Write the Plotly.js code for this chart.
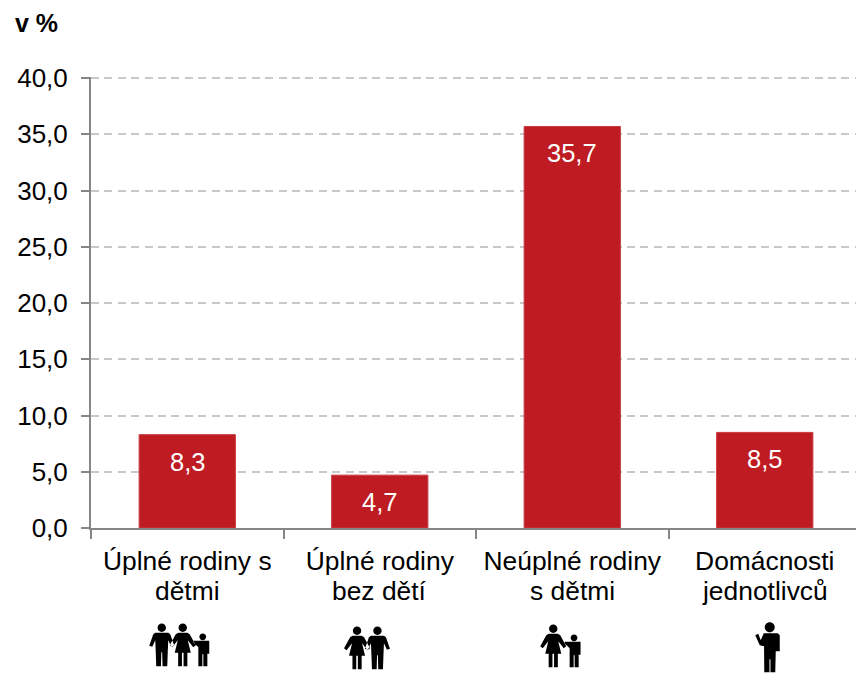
<!DOCTYPE html>
<html><head><meta charset="utf-8">
<script src="https://cdn.plot.ly/plotly-3.0.1.min.js"></script>
<style>html,body{margin:0;padding:0;background:#fff;overflow:hidden}</style>
</head><body><div id="chart" style="width:856px;height:673px"></div>
<script>
var categories = ["Úplné rodiny s","Úplné rodiny","Neúplné rodiny","Domácnosti"];
var categoriesLine2 = ["dětmi","bez dětí","s dětmi","jednotlivců"];
var values = [8.3,4.7,35.7,8.5];
var yTicks = [0,5,10,15,20,25,30,35,40];
var unitLabel = "v %";

var font = "Liberation Sans, Arial, sans-serif";
var xRange = [-0.5,3.474];
function fmt(v){return v.toFixed(1).replace(".",",");}
function poly(pts){return "M"+pts.map(function(p){return p[0]+","+p[1];}).join(" L")+" Z ";}
function circle(cx,cy,r){var k=0.5523*r;return "M"+(cx-r)+","+cy+
 " C"+(cx-r)+","+(cy+k)+" "+(cx-k)+","+(cy+r)+" "+cx+","+(cy+r)+
 " C"+(cx+k)+","+(cy+r)+" "+(cx+r)+","+(cy+k)+" "+(cx+r)+","+cy+
 " C"+(cx+r)+","+(cy-k)+" "+(cx+k)+","+(cy-r)+" "+cx+","+(cy-r)+
 " C"+(cx-k)+","+(cy-r)+" "+(cx-r)+","+(cy-k)+" "+(cx-r)+","+cy+" Z ";}
function shift(x,s,list){return list.map(function(p){return [x+p[0]*s,p[1]*s];});}
function manPath(x,s){
 return circle(x,38.5*s,4.2*s)+poly(shift(x,s,[[-6.5,33.5],[6.5,33.5],[8.5,32],[12.5,20.5],[9.5,19.5],[6.5,26],[6,14],[5.5,0],[0.8,0],[0.4,14],[-0.4,14],[-0.8,0],[-5.5,0],[-6,14],[-6.5,26],[-9.5,19.5],[-12.5,20.5],[-8.5,32]]));
}
function womanPath(x,s){
 return circle(x,38.5*s,4.2*s)+poly(shift(x,s,[[-4.5,33.5],[4.5,33.5],[7,32],[13,21],[10.5,19],[5,26],[8,13.5],[4.6,13.5],[4.6,0],[0.8,0],[0.8,13.5],[-0.8,13.5],[-0.8,0],[-4.6,0],[-4.6,13.5],[-8,13.5],[-5,26],[-10.5,19],[-13,21],[-7,32]]));
}
function childPath(x,s){
 return circle(x,29.5*s,3.4*s)+poly(shift(x,s,[[-5.5,25.5],[6.5,25.5],[6.5,12.5],[4.6,12.5],[4.6,0],[0.6,0],[0.6,12],[-0.4,12],[-0.4,0],[-4.4,0],[-4.4,19],[-9,23.5],[-9.5,25.5]]));
}
function singlePath(x,s){
 return circle(x,45*s,5*s)+poly(shift(x,s,[[-6,39],[8,39],[10,37],[10,21],[6,21],[5.5,0],[0.7,0],[0.7,13],[-0.3,13],[-0.3,0],[-5.5,0],[-5.7,26],[-10,27],[-14.5,37],[-11.5,38.5],[-9,32]]));
}
var icons = [
 {i:0, feetPx:667, path: manPath(-25.5,1)+womanPath(-4.5,1)+childPath(15.5,1)},
 {i:1, feetPx:670, path: womanPath(-22.7,1)+manPath(-2.3,1)},
 {i:2, feetPx:668, path: womanPath(-19,1)+childPath(1.8,1)},
 {i:3, feetPx:673, path: singlePath(5,1)}
];
var span = xRange[1]-xRange[0];
var shapes = icons.map(function(o){return {
 type:"path", xref:"paper", yref:"paper", xsizemode:"pixel", ysizemode:"pixel",
 xanchor:(o.i+0.5)/span, yanchor:(528.5-o.feetPx)/451.6, path:o.path, fillcolor:"#000", line:{width:0}, layer:"above"};});

var labels = values.map(function(v,i){return {
 x:i, y:v, xref:"x", yref:"y", text:fmt(v), showarrow:false,
 yshift:-27, font:{family:font,size:25.5,color:"#ffffff"}, xanchor:"center", yanchor:"middle"};});
categoriesLine2.forEach(function(t,i){labels.push({
 x:i, xref:"x", yref:"paper", y:(528.5-592)/451.6, text:t, showarrow:false,
 font:{family:font,size:26.4,color:"#000"}, xanchor:"center", yanchor:"middle"});});
labels.push({xref:"paper",yref:"paper",x:-0.1,y:1.12,xanchor:"left",yanchor:"middle",xshift:-2,
 text:"<b>"+unitLabel+"</b>",showarrow:false,font:{family:font,size:25,color:"#000"}});

Plotly.newPlot("chart",[{
 type:"bar", x:categories, y:values, width:0.5,
 marker:{color:"#BE1B22",line:{color:"#C93A40",width:1}}, hoverinfo:"skip"
}],{
 width:856,height:673,margin:{l:91,r:0,t:76.9,b:144.5,autoexpand:false},
 paper_bgcolor:"#fff",plot_bgcolor:"#fff",showlegend:false,
 font:{family:font,size:24,color:"#000"},
 xaxis:{type:"category",categoryorder:"array",categoryarray:categories,range:xRange,
  tickson:"boundaries",ticks:"outside",ticklen:9,tickwidth:2,tickcolor:"#868686",ticklabelstandoff:8,
  showline:true,linecolor:"#868686",linewidth:2,showgrid:false,zeroline:false,
  tickfont:{family:font,size:26.4,color:"#000"}},
 yaxis:{range:[0,40.1],tickmode:"array",tickvals:yTicks,ticktext:yTicks.map(fmt),
  ticks:"outside",ticklen:8,tickwidth:2,tickcolor:"#868686",ticklabelstandoff:8,
  showline:true,linecolor:"#868686",linewidth:2,gridcolor:"#C8C8C8",gridwidth:2,griddash:"8px,5.4px",zeroline:false,
  tickfont:{family:font,size:26,color:"#000"}},
 shapes:shapes, annotations:labels
},{staticPlot:true,displayModeBar:false});
</script></body></html>
